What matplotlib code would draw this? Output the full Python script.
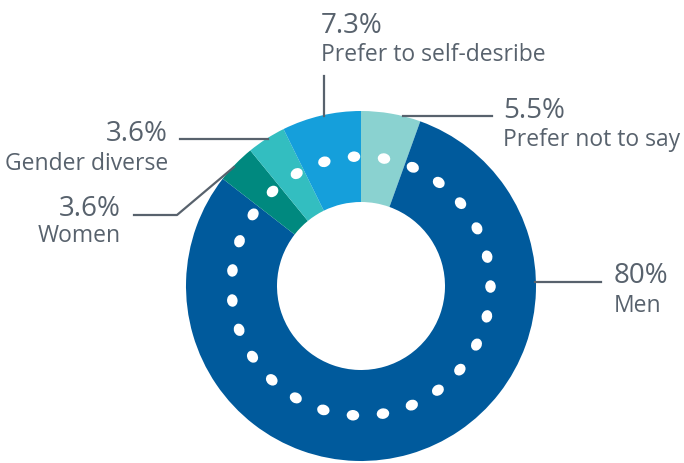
import numpy as np
import matplotlib
matplotlib.use("Agg")
import matplotlib.pyplot as plt
from matplotlib.patches import Ellipse

plt.rcParams['font.family'] = ['Open Sans', 'DejaVu Sans']

# data, in drawing order (clockwise from 12 o'clock)
labels = ['Prefer not to say', 'Men', 'Women', 'Gender diverse', 'Prefer to self-desribe']
shares = [5.5, 80, 3.6, 3.6, 7.3]
pct_text = ['5.5%', '80%', '3.6%', '3.6%', '7.3%']
colors = ['#8ad2d0', '#005a9c', '#00897f', '#33bec0', '#159fdb']

W, H = 684, 463
cx, cy = 361, 286      # donut centre in pixels
R, r_in = 175, 84
txt_col = '#58626d'

fig = plt.figure(figsize=(W / 100, H / 100), dpi=100)
ax = fig.add_axes([0, 0, 1, 1])

# y axis is flipped, so counterclock in data = clockwise on screen
ax.pie(shares, colors=colors, startangle=270, counterclock=True,
       center=(cx, cy), radius=R, frame=True,
       wedgeprops=dict(width=R - r_in, linewidth=0))
ax.set_xlim(0, W)
ax.set_ylim(H, 0)
ax.set_aspect('equal')
ax.axis('off')

# white dotted ring
r_dot = (R + r_in) / 2
n_dots = 27
for k in range(n_dots):
    phi = np.radians(-3.1 + k * 360 / n_dots)
    x = cx + r_dot * np.sin(phi)
    y = cy - r_dot * np.cos(phi)
    ax.add_patch(Ellipse((x, y), 12.5, 10.5, angle=np.degrees(phi),
                         facecolor='white', edgecolor='none'))

# leader lines
lw = 1.6
ax.plot([324, 324], [76, 116], color=txt_col, lw=lw)                 # self-describe
ax.plot([403, 492], [116, 116], color=txt_col, lw=lw)                # not to say
ax.plot([535, 601], [282, 282], color=txt_col, lw=lw)                # men
ax.plot([180, 268], [139, 139], color=txt_col, lw=lw)                # gender diverse
ax.plot([134, 177, 234], [215, 215, 167], color=txt_col, lw=lw)      # women

big, small = 20, 16.5

def put(x, y1, y2, i, ha):
    ax.text(x, y1, pct_text[i], fontsize=big, color=txt_col, ha=ha, va='baseline')
    ax.text(x, y2, labels[i], fontsize=small, color=txt_col, ha=ha, va='baseline')

put(321, 33, 61, 4, 'left')
put(503, 118, 146, 0, 'left')
put(614, 283, 312, 1, 'left')
put(168, 141, 170, 3, 'right')
put(121, 216, 242, 2, 'right')

fig.savefig('out.png', dpi=100)
